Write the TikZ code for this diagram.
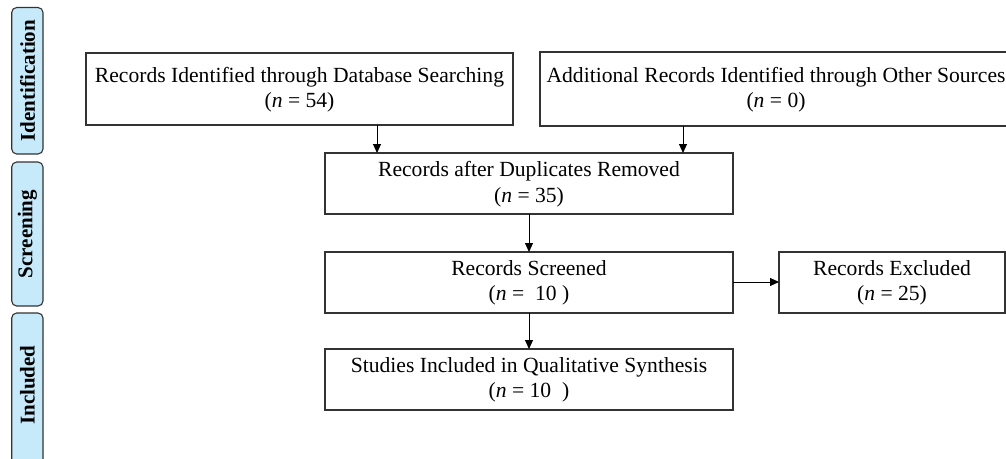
\documentclass[tikz,border=0pt]{standalone}
\usepackage{fontspec}
\setmainfont{Liberation Serif}
\usetikzlibrary{arrows.meta}
\definecolor{barblue}{HTML}{C7EAFB}
\definecolor{edge}{HTML}{333333}
\begin{document}
\begin{tikzpicture}[x=1pt,y=-1pt,
  box/.style={draw=edge,line width=1.1pt,fill=white},
  boxtext/.style={align=center,font=\fontsize{21.6}{25.5}\selectfont,inner sep=0pt},
  bar/.style={draw=edge,line width=1.1pt,fill=barblue,rounded corners=5pt},
  bartext/.style={rotate=90,font=\fontsize{21}{25}\selectfont\bfseries,inner sep=0pt},
  arr/.style={draw=black,line width=1pt,-{Triangle[length=9pt,width=8pt]}}]
\useasboundingbox (0,0) rectangle (1006,458);
% side bars
\draw[bar] (11.7,7.5) rectangle (43,154);
\draw[bar] (11.7,162) rectangle (43,306);
\draw[bar] (11.7,313) rectangle (43,470);
\node[bartext] (lid) at (27.5,80.5) {Identification};
\node[bartext] (lsc) at (27.5,234) {Screening};
\node[bartext] (lin) at (27.5,385) {Included};
% boxes
\draw[box] (86,53) rectangle (513,125);
\node[boxtext] (b1) at (299.5,89.5) {Records Identified through Database Searching\\(\textit{n} = 54)};
\draw[box] (540,52) rectangle (1012,126);
\node[boxtext] (b2) at (776,89.5) {Additional Records Identified through Other Sources\\(\textit{n} = 0)};
\draw[box] (325,153) rectangle (733,214);
\node[boxtext] (b3) at (529,184) {Records after Duplicates Removed\\(\textit{n} = 35)};
\draw[box] (325,252) rectangle (733,313);
\node[boxtext] (b4) at (529,283) {Records Screened\\(\textit{n} = ~10 )};
\draw[box] (779,252) rectangle (1005,313);
\node[boxtext] (b5) at (892,283) {Records Excluded\\(\textit{n} = 25)};
\draw[box] (325,349) rectangle (733,410);
\node[boxtext] (b6) at (529,380) {Studies Included in Qualitative Synthesis\\(\textit{n} = 10 ~)};
% connector anchors
\coordinate (s1) at (377,125);
\coordinate (t1) at (377,153);
\coordinate (s2) at (683,126);
\coordinate (t2) at (683,153);
\coordinate (s3) at (529,214);
\coordinate (t3) at (529,252);
\coordinate (s4) at (529,313);
\coordinate (t4) at (529,349);
\coordinate (s5) at (733,282);
\coordinate (t5) at (779,282);
\draw[arr] (s1) -- (t1);
\draw[arr] (s2) -- (t2);
\draw[arr] (s3) -- (t3);
\draw[arr] (s4) -- (t4);
\draw[arr] (s5) -- (t5);
\end{tikzpicture}
\end{document}
